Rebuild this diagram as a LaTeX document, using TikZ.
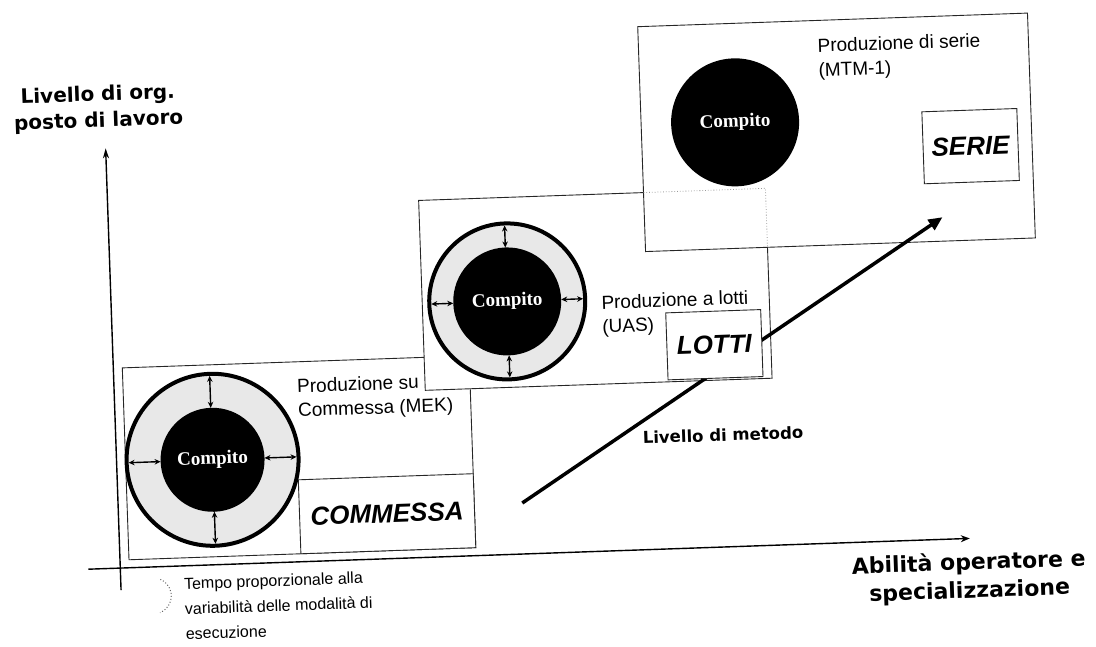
\documentclass[tikz,border=0pt]{standalone}
\usepackage{fontspec}
\newfontfamily\arialf{Liberation Sans}
\newfontfamily\verdf{DejaVu Sans}
\newfontfamily\timesf{Liberation Serif}
\usetikzlibrary{arrows.meta}
\begin{document}
\begin{tikzpicture}[x=1pt,y=-1pt,
  panel/.style={draw=black!85, line width=0.9pt, fill=white, inner sep=0pt, outer sep=0pt},
  ringout/.style={circle, draw=black, line width=4pt, fill=black!9, inner sep=0pt, outer sep=0pt},
  core/.style={circle, fill=black, inner sep=0pt, outer sep=0pt, text=white, font=\timesf\bfseries\fontsize{19}{22}\selectfont},
  ringarrow/.style={{Stealth[length=6pt,width=5.5pt]}-{Stealth[length=6pt,width=5.5pt]}, line width=1.4pt, shorten >=2pt},
  boxlabel/.style={font=\arialf\bfseries\itshape\fontsize{26}{30}\selectfont},
  plain/.style={font=\arialf\fontsize{19}{24}\selectfont, align=left, anchor=west, inner sep=0pt},
  axislabel/.style={font=\verdf\bfseries\fontsize{20}{26}\selectfont, align=center, inner sep=0pt},
  axis/.style={line width=1.4pt},
  ghost/.style={draw=black!40, dotted, line width=0.8pt}
]
\useasboundingbox (0,0) rectangle (1096,646);
\begin{scope}[rotate around={2:(548,323)}, transform shape]
  % axes
  \coordinate (yb) at (112,575);
  \coordinate (yt) at (112,133);
  \coordinate (xl) at (80,553);
  \coordinate (xr) at (962,553);
  \draw[axis, -{Stealth[length=10pt,width=6pt]}] (yb) -- (yt);
  \draw[axis, -{Stealth[open,length=9pt,width=7pt]}] (xl) -- (xr);

  % MEK panel
  \node[panel, minimum width=347pt, minimum height=192pt, anchor=north west] (mek) at (121,353) {};
  \node[panel, minimum width=175pt, minimum height=74pt, anchor=south east] (commessa) at (mek.south east) {};
  \node[boxlabel] (commessat) at (commessa.center) {COMMESSA};
  \node[ringout, minimum size=172pt] (mekout) at (208,448) {};
  \node[core, minimum size=104pt] (mekin) at (208,448) {Compito};
  \draw[ringarrow] (mekin.north) -- (mekout.north);
  \draw[ringarrow] (mekin.south) -- (mekout.south);
  \draw[ringarrow] (mekin.west) -- (mekout.west);
  \draw[ringarrow] (mekin.east) -- (mekout.east);
  \node[plain] (mekt) at (295,391) {Produzione su\\Commessa (MEK)};

  % UAS panel
  \node[panel, minimum width=347pt, minimum height=190pt, anchor=north west] (mid) at (423,196) {};
  \node[ringout, minimum size=156pt] (midout) at (508,300) {};
  \node[core, minimum size=108pt] (midin) at (508,300) {Compito};
  \draw[ringarrow] (midin.north) -- (midout.north);
  \draw[ringarrow] (midin.south) -- (midout.south);
  \draw[ringarrow] (midin.west) -- (midout.west);
  \draw[ringarrow] (midin.east) -- (midout.east);
  \node[plain] (midt) at (602,318) {Produzione a lotti\\(UAS)};

  % MTM-1 panel
  \node[panel, minimum width=390pt, minimum height=225pt, anchor=north west] (top) at (648,30) {};
  \draw[ghost] (648,196) -- (770,196) -- (770,255);
  \node[core, minimum size=128pt] (topin) at (742,129) {Compito};
  \node[panel, minimum width=95pt, minimum height=72pt, anchor=north west] (serie) at (929,125) {};
  \node[boxlabel] (seriet) at (serie.center) {SERIE};
  \node[plain] (topt) at (827,69) {Produzione di serie\\(MTM-1)};

  % method arrow
  \coordinate (m1) at (516,502);
  \coordinate (m2) at (946,231);
  \draw[line width=3.5pt, -{Triangle[length=14pt,width=12pt]}] (m1) -- (m2);
  \node[panel, minimum width=95pt, minimum height=67pt, anchor=north west] (lotti) at (666,317) {};
  \node[boxlabel] (lottit) at (lotti.center) {LOTTI};
  \node[font=\verdf\bfseries\fontsize{16.5}{20}\selectfont, inner sep=0pt] (metodo) at (719,441) {Livello di metodo};

  % axis labels
  \node[axislabel] (ylab) at (106,93) {Livello di org.\\posto di lavoro};
  \node[axislabel, font=\verdf\bfseries\fontsize{22}{28}\selectfont] (xlab) at (960,592) {Abilità operatore e\\specializzazione};

  % legend
  \draw[black!60, dotted, line width=1pt] (144,582) ++(-65:18) arc (-65:70:18);
  \node[plain, font=\arialf\fontsize{16}{25}\selectfont] (tempo) at (175,596) {Tempo proporzionale alla\\variabilità delle modalità di\\esecuzione};
\end{scope}
\end{tikzpicture}
\end{document}
